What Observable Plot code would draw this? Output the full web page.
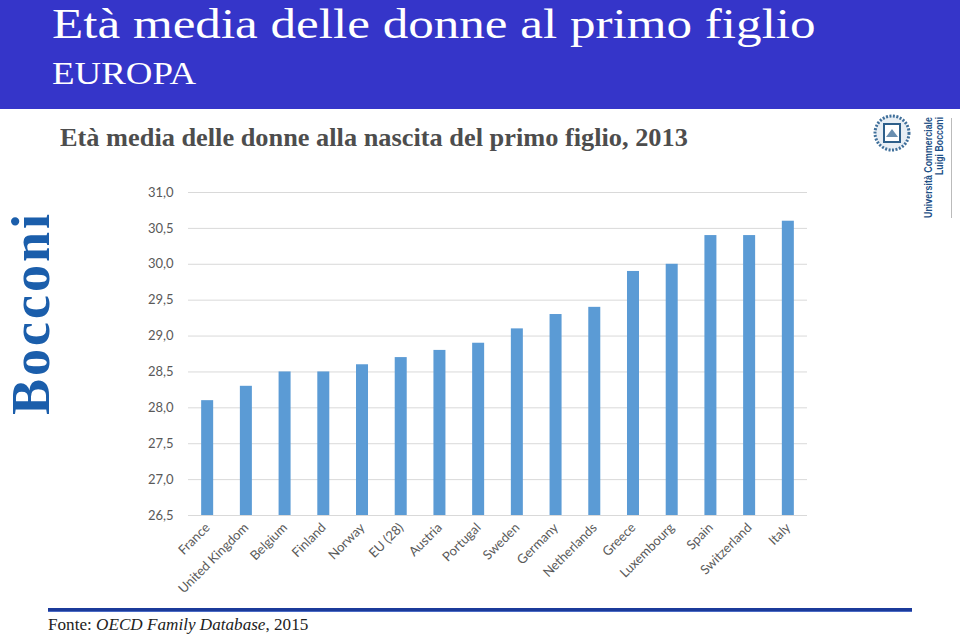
<!DOCTYPE html>
<html>
<head>
<meta charset="utf-8">
<script src="https://cdn.jsdelivr.net/npm/d3@7"></script>
<script src="https://cdn.jsdelivr.net/npm/@observablehq/plot@0.6"></script>
<style>
  html, body { margin: 0; padding: 0; background: #fff; }
  #page { position: relative; width: 960px; height: 638px; overflow: hidden; background: #fff; }
  .abs { position: absolute; white-space: nowrap; line-height: 1; transform-origin: 0 0; }
  #band { position: absolute; left: 0; top: 0; width: 960px; height: 109px; background: #3535c9; }
  .serif { font-family: "Liberation Serif", "DejaVu Serif", serif; }
  #title { color: #fff; font-size: 42px; left: 52px; top: 2.5px; }
  #region { color: #fff; font-size: 31px; left: 52px; top: 58px; }
  #subtitle { color: #4d4d4d; font-size: 25px; font-weight: bold; left: 60px; top: 125px; }
  #source { color: #222; font-size: 17px; left: 48px; top: 616px; }
  #bocconi { color: #1b5eab; font-size: 54px; font-weight: bold; letter-spacing: 3px; left: 3.5px; top: 415px; transform: rotate(-90deg); }
  #rule { position: absolute; left: 48px; top: 608px; width: 864px; height: 0; border-top: 3px solid #1b3a9a; border-bottom: 1px solid #4a6ac4; }
  #chart { position: absolute; left: 0; top: 170px; }
  .logoText { font-family: "Liberation Sans", Arial, sans-serif; font-weight: bold; font-size: 10px; color: #1d4f86; transform: rotate(-90deg); }
  #vline { position: absolute; left: 951px; top: 118px; width: 1px; height: 100px; background: #bbb; }
</style>
</head>
<body>
<div id="page">
  <div id="band"></div>
  <div id="title" class="abs serif">Età media delle donne al primo figlio</div>
  <div id="region" class="abs serif">EUROPA</div>
  <div id="subtitle" class="abs serif">Età media delle donne alla nascita del primo figlio, 2013</div>
  <div id="bocconi" class="abs serif">Bocconi</div>
  <svg style="position:absolute;left:872px;top:113px" width="40" height="40">
    <circle cx="20" cy="20" r="17" fill="#e8eef4" stroke="#3f6f9a" stroke-width="3" stroke-dasharray="2 1.5"/>
    <rect x="12" y="11" width="16" height="18" fill="#ffffff" stroke="#2d5f8a" stroke-width="2"/>
    <path d="M14 24 L20 16 L26 24 Z" fill="#6a8fb0"/>
  </svg>
  <div id="logo1" class="abs logoText" style="left:924px;top:218px;">Università Commerciale</div>
  <div id="logo2" class="abs logoText" style="left:935px;top:175px;">Luigi Bocconi</div>
  <div id="vline"></div>
  <div id="chart"></div>
  <div id="rule"></div>
  <div id="source" class="abs serif">Fonte: <i>OECD Family Database</i>, 2015</div>
</div>
<script>
const countries = ["France","United Kingdom","Belgium","Finland","Norway","EU (28)","Austria","Portugal","Sweden","Germany","Netherlands","Greece","Luxembourg","Spain","Switzerland","Italy"];
const ages = [28.1,28.3,28.5,28.5,28.6,28.7,28.8,28.9,29.1,29.3,29.4,29.9,30.0,30.4,30.4,30.6];
const yTicks = [26.5,27,27.5,28,28.5,29,29.5,30,30.5,31];
const yBase = 26.5;

const data = countries.map((c, i) => ({country: c, age: ages[i]}));

const chart = Plot.plot({
  width: 960,
  height: 440,
  marginTop: 22,
  marginBottom: 95,
  marginLeft: 188,
  marginRight: 153,
  style: {fontFamily: "Lato, 'Open Sans', sans-serif", fontSize: "13px", color: "#595959", background: "transparent"},
  x: {domain: countries, paddingInner: 0.69, paddingOuter: 0.34, round: false, label: null, tickSize: 0, tickRotate: -45, tickPadding: 10},
  y: {domain: [yTicks[0], yTicks[yTicks.length - 1]], ticks: yTicks, label: null, tickSize: 0, tickPadding: 15,
      tickFormat: d => d.toFixed(1).replace(".", ",")},
  marks: [
    Plot.gridY(yTicks, {stroke: "#d9d9d9", strokeOpacity: 1, strokeWidth: 1}),
    Plot.barY(data, {x: "country", y1: yBase, y2: "age", fill: "#5b9bd5"})
  ]
});
document.getElementById("chart").appendChild(chart);

function fit(id, w, pre) {
  const el = document.getElementById(id);
  const r = el.offsetWidth;
  el.style.transform = `${pre || ""} scaleX(${w / r})`;
}
fit("title", 763);
fit("region", 144);
fit("subtitle", 628);
fit("source", 260);
fit("logo1", 101, "rotate(-90deg)");
fit("logo2", 58, "rotate(-90deg)");
</script>
</body>
</html>
